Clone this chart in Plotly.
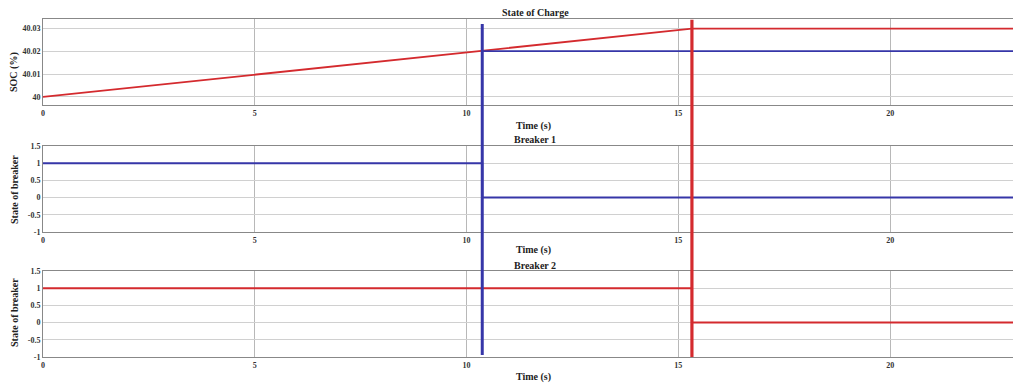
import plotly.graph_objects as go

# ---- data ----
t_end = 22.9
t_b1 = 10.37          # breaker 1 opens
t_b2 = 15.32          # breaker 2 opens

soc_red_t = [0, t_b1, t_b2, t_end]
soc_red_v = [40.0, 40.02, 40.0298, 40.0298]
soc_blue_t = [t_b1, t_end]
soc_blue_v = [40.02, 40.02]

b1_t = [0, t_b1, t_b1, t_end]
b1_v = [1, 1, 0, 0]
b2_t = [0, t_b2, t_b2, t_end]
b2_v = [1, 1, 0, 0]

x_ticks = [0, 5, 10, 15, 20]
soc_ticks = [40, 40.01, 40.02, 40.03]
soc_tick_labels = ["40", "40.01", "40.02", "40.03"]
brk_ticks = [-1, -0.5, 0, 0.5, 1, 1.5]
brk_tick_labels = ["-1", "-0.5", "0", "0.5", "1", "1.5"]

BLUE = "#3636a8"
RED = "#d42a2e"
FONT = "Liberation Serif"

fig = go.Figure()
fig.add_trace(go.Scatter(x=soc_red_t, y=soc_red_v, mode="lines", line=dict(color=RED, width=1.8), xaxis="x", yaxis="y", showlegend=False))
fig.add_trace(go.Scatter(x=soc_blue_t, y=soc_blue_v, mode="lines", line=dict(color=BLUE, width=1.8), xaxis="x", yaxis="y", showlegend=False))
fig.add_trace(go.Scatter(x=b1_t, y=b1_v, mode="lines", line=dict(color=BLUE, width=2), xaxis="x2", yaxis="y2", showlegend=False))
fig.add_trace(go.Scatter(x=b2_t, y=b2_v, mode="lines", line=dict(color=RED, width=2), xaxis="x3", yaxis="y3", showlegend=False))

# vertical switching lines spanning all panels
fig.add_shape(type="line", xref="x", yref="paper", x0=t_b1, x1=t_b1, y0=0.006, y1=0.985,
              line=dict(color=BLUE, width=3))
fig.add_shape(type="line", xref="x", yref="paper", x0=t_b2, x1=t_b2, y0=0.0, y1=0.998,
              line=dict(color=RED, width=3.2))

tickfont = dict(family=FONT, size=8, color="#333", weight="bold")
xcommon = dict(range=[0, t_end], tickvals=x_ticks, showgrid=True, gridcolor="#b8b8b8",
               gridwidth=1, zeroline=False, showline=True, linecolor="#888", mirror=True,
               tickfont=tickfont, ticks="", ticklen=0)
ycommon = dict(showgrid=True, gridcolor="#d0d0d0", zeroline=False, showline=True,
               linecolor="#888", mirror=True, tickfont=tickfont, ticks="")

doms = [[0.7456, 1.0], [0.3698, 0.6243], [0.0, 0.2544]]
fig.update_layout(
    width=1013, height=389,
    margin=dict(l=43, r=0, t=19, b=32),
    plot_bgcolor="white", paper_bgcolor="white",
    xaxis=dict(xcommon, anchor="y"),
    yaxis=dict(ycommon, domain=doms[0], range=[39.9965, 40.034], tickvals=soc_ticks, ticktext=soc_tick_labels),
    xaxis2=dict(xcommon, anchor="y2"),
    yaxis2=dict(ycommon, domain=doms[1], range=[-1, 1.5], tickvals=brk_ticks, ticktext=brk_tick_labels),
    xaxis3=dict(xcommon, anchor="y3"),
    yaxis3=dict(ycommon, domain=doms[2], range=[-1, 1.5], tickvals=brk_ticks, ticktext=brk_tick_labels),
)

def ann(text, xpx, ypx, size=10, angle=0):
    fig.add_annotation(text=text, xref="paper", yref="paper",
                       x=(xpx - 43) / 970, y=(357 - ypx) / 338,
                       xanchor="center", yanchor="middle", showarrow=False, textangle=angle,
                       font=dict(family=FONT, size=size, color="#222", weight="bold"))

ann("State of Charge", 535, 12)
ann("Breaker 1", 535, 139)
ann("Breaker 2", 535, 265)
ann("Time (s)", 533, 126)
ann("Time (s)", 533, 250)
ann("Time (s)", 533, 377)
ann("SOC (%)", 14, 72, angle=-90)
ann("State of breaker", 14, 190, angle=-90)
ann("State of breaker", 14, 313, angle=-90)

fig.write_html("out.html")
